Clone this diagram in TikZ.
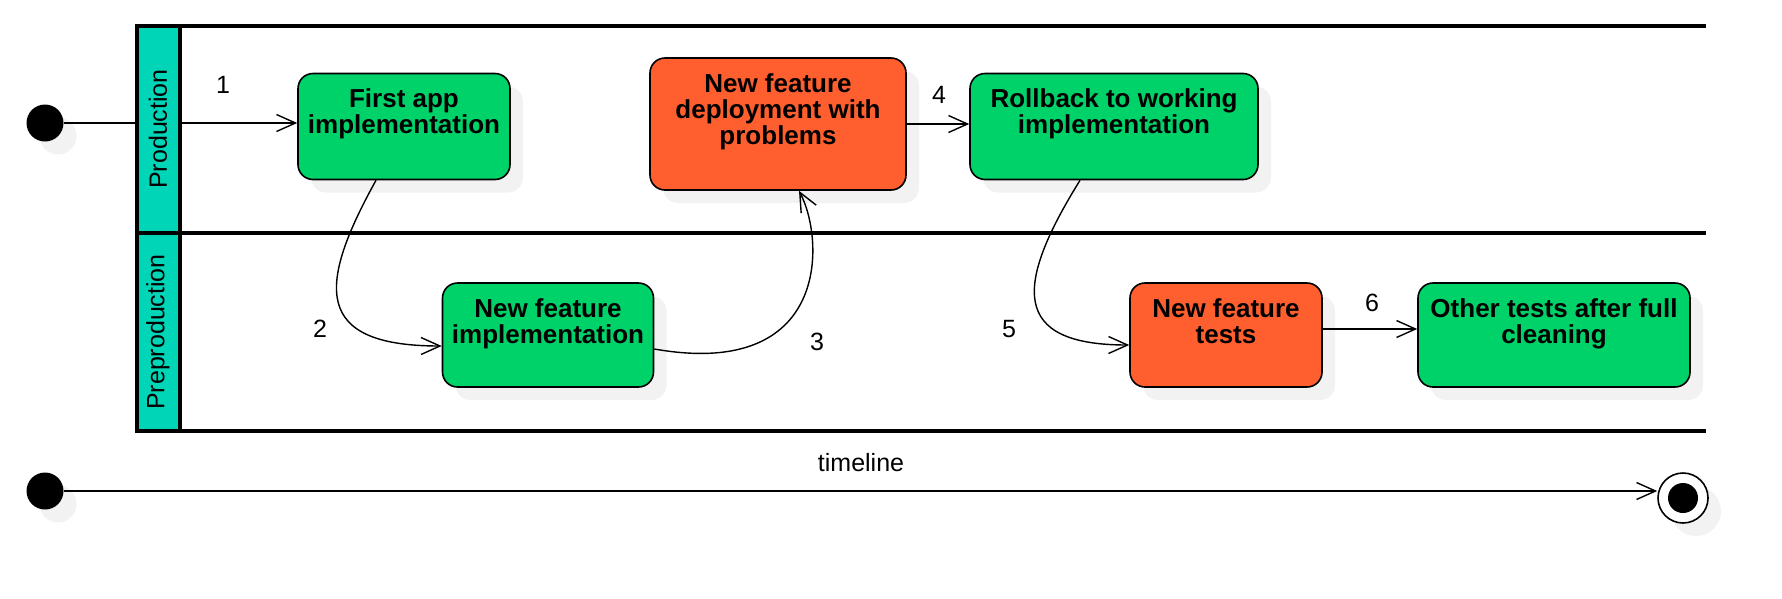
\documentclass[tikz,border=0pt]{standalone}
\usepackage{fontspec}
\setmainfont{Liberation Sans}
\usetikzlibrary{arrows.meta,
                shadows
                }
\definecolor{gruen}{HTML}{00D26A}
\definecolor{orangerot}{HTML}{FF5F2E}
\definecolor{tuerkis}{HTML}{00D5B7}

\begin{document}
\begin{tikzpicture}[x=1pt, y=-1pt,
    schatten/.style={drop shadow={shadow xshift=13pt, shadow yshift=-13pt,
                     fill=black!5, opacity=1}},
    act/.style={draw, line width=1.6pt, rounded corners=15pt, inner sep=0pt, schatten},
    txt/.style={anchor=north, yshift=-16pt, inner sep=0pt, align=center,
                font=\fontsize{26}{26}\selectfont\bfseries},
    zahl/.style={inner sep=0pt, font=\fontsize{25}{30}\selectfont},
    pfeil/.style={line width=1.4pt, -{Straight Barb[length=19pt, width=17pt]}},
    bahn/.style={line width=4pt},
    punkt/.style={circle, fill, minimum size=37pt, inner sep=0pt, schatten},
    ende/.style={circle, draw, fill=white, line width=1.6pt, minimum size=50pt,
                 inner sep=0pt, schatten,
                 path picture={\fill[black] (path picture bounding box.center) circle (15pt);}}
    ]
    \useasboundingbox (0,0) rectangle (1782,598);

    % Schwimmbahnen
    \draw[bahn] (137,26) -- (1706,26);
    \draw[bahn] (137,233) -- (1706,233);
    \draw[bahn] (137,431) -- (1706,431);

    % Startknoten
    \node[punkt] (start) at (45,123) {};

    % Aktivitaeten in Production
    \node[act, fill=gruen, minimum width=212pt, minimum height=106pt,
          label={[txt]north:First app\\implementation}] (first) at (404,126.5) {};
    \node[act, fill=orangerot, minimum width=256pt, minimum height=132pt,
          label={[txt]north:New feature\\deployment with\\problems}] (deploy) at (778,124) {};
    \node[act, fill=gruen, minimum width=288pt, minimum height=106pt,
          label={[txt]north:Rollback to working\\implementation}] (rollback) at (1114,126.5) {};

    % Aktivitaeten in Preproduction
    \node[act, fill=gruen, minimum width=211pt, minimum height=104pt,
          label={[txt]north:New feature\\implementation}] (newimpl) at (548,335) {};
    \node[act, fill=orangerot, minimum width=192pt, minimum height=104pt,
          label={[txt]north:New feature\\tests}] (tests) at (1226,335) {};
    \node[act, fill=gruen, minimum width=272pt, minimum height=104pt,
          label={[txt]north:Other tests after full\\cleaning}] (other) at (1554,335) {};

    % Zeichne die Uebergaenge
    \draw[pfeil] (start) -- (start -| first.west);
    \draw[pfeil] ([xshift=-28pt]first.south) .. controls (318,285) and (312,346)
        .. ([yshift=-11pt]newimpl.west);
    \draw[pfeil] ([yshift=-14pt]newimpl.east) .. controls (830,380) and (825,240)
        .. ([xshift=21pt]deploy.south);
    \draw[pfeil] (deploy.east) -- (deploy.east -| rollback.west);
    \draw[pfeil] ([xshift=-34pt]rollback.south) .. controls (1015,285) and (1010,345)
        .. ([yshift=-10pt]tests.west);
    \draw[pfeil] ([yshift=6pt]tests.east) -- ([yshift=6pt]tests.east -| other.west);

    % Nummern der Schritte
    \node[zahl] (n1) at (223,85) {1};
    \node[zahl] (n2) at (320,329) {2};
    \node[zahl] (n3) at (817,342) {3};
    \node[zahl] (n4) at (939,95) {4};
    \node[zahl] (n5) at (1009,329) {5};
    \node[zahl] (n6) at (1372,303) {6};

    % Bahnkoepfe
    \draw[bahn, fill=tuerkis] (137,26) rectangle (180,431);
    \draw[bahn] (137,233) -- (180,233);
    \node[zahl, rotate=90] (prod) at (158,129) {Production};
    \node[zahl, rotate=90] (preprod) at (158,332) {Preproduction};

    % Zeitleiste
    \node[punkt] (tstart) at (45,491) {};
    \node[ende] (tend) at (1683,498) {};
    \draw[pfeil] (tstart) -- (tstart -| tend.west);
    \node[zahl] (tl) at (861,463) {timeline};
\end{tikzpicture}
\end{document}
